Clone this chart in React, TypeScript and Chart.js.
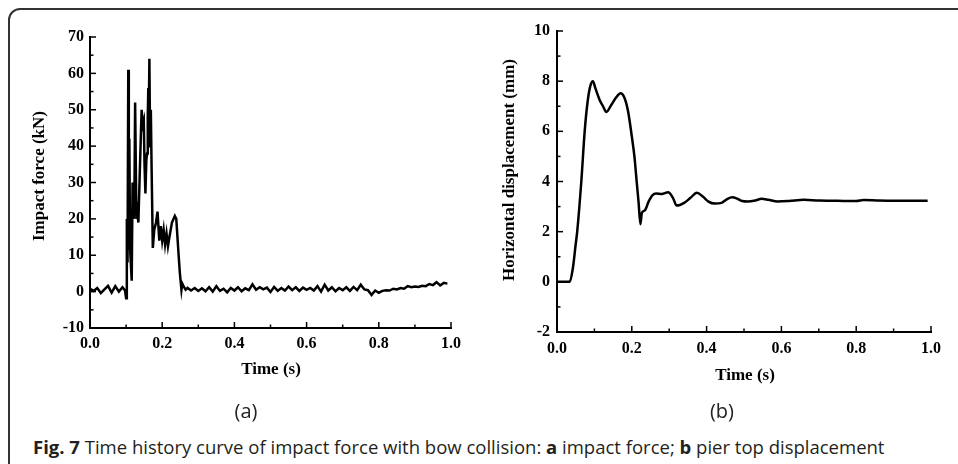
import React, { useEffect, useRef } from "react";
import { Chart, registerables } from "chart.js";

Chart.register(...registerables);

// ---------- Data ----------
// (a) impact force time history
const timeA = [
  0, 0.01, 0.02, 0.03, 0.04, 0.05, 0.06, 0.07, 0.08, 0.09, 0.097, 0.1, 0.102, 0.104, 0.106, 0.107,
  0.108, 0.109, 0.111, 0.1155, 0.118, 0.121, 0.123, 0.125, 0.1285, 0.131, 0.134, 0.138, 0.143,
  0.1465, 0.149, 0.151, 0.1535, 0.156, 0.158, 0.16, 0.1615, 0.1625, 0.1645, 0.1665, 0.1685, 0.1705,
  0.174, 0.178, 0.183, 0.187, 0.192, 0.196, 0.2, 0.204, 0.208, 0.212, 0.216, 0.22, 0.227, 0.235,
  0.239, 0.2455, 0.249, 0.2533, 0.2555, 0.259, 0.265, 0.27, 0.28, 0.29, 0.3, 0.31, 0.32, 0.33, 0.34,
  0.35, 0.36, 0.37, 0.38, 0.39, 0.4, 0.41, 0.42, 0.43, 0.44, 0.45, 0.46, 0.47, 0.48, 0.49, 0.5,
  0.51, 0.52, 0.53, 0.54, 0.55, 0.56, 0.57, 0.58, 0.59, 0.6, 0.61, 0.62, 0.63, 0.64, 0.65, 0.66,
  0.67, 0.68, 0.69, 0.7, 0.71, 0.72, 0.73, 0.74, 0.75, 0.76, 0.77, 0.78, 0.79, 0.8, 0.81, 0.82,
  0.83, 0.84, 0.85, 0.86, 0.87, 0.88, 0.89, 0.9, 0.91, 0.92, 0.93, 0.94, 0.95, 0.96, 0.97, 0.98, 0.99,
];
const forceA = [
  0.8, 0.2, 1.0, -0.4, 0.6, 1.6, -0.3, 1.5, 0.0, 1.2, 0.3, -1.8, 20, 8, 61, 54,
  38, 42, 12, 3, 30, 20, 25, 52, 20, 22, 19, 33, 50,
  46, 47, 35, 27, 36, 38, 48, 56, 45, 64, 40, 50, 35,
  12, 17, 19, 22, 14, 18, 14, 17, 13, 16, 12.5, 15, 19, 20.8,
  20, 10, 5, 0.5, 2.2, 1.5, 0.5, 1.0, 0.3, 1.0, 0.2, 0.9, 0.1, 1.2, 0.0,
  1.5, 0.2, 0.8, -0.2, 1.0, 0.3, 1.2, 0.1, 0.9, 0.4, 2.0, 0.5, 1.2, 0.6, 1.1, -0.1,
  1.3, 0.2, 1.0, 0.3, 1.4, 0.4, 1.2, 0.2, 1.1, 0.5, 1.0, 0.3, 1.5, 0.0, 1.9, 0.3,
  1.2, 0.1, 1.0, 0.4, 1.2, 0.2, 1.3, 0.4, 1.9, 0.6, 0.4, -0.9, 0.3, -0.3, 0.2, 0.4,
  0.3, 0.8, 0.6, 1.0, 0.8, 1.5, 1.2, 1.4, 1.3, 1.6, 1.5, 2.1, 1.8, 2.6, 1.7, 2.4, 2.2, 2.3,
];

// (b) pier top horizontal displacement
const timeB = [
  0, 0.034, 0.042, 0.05, 0.054, 0.065, 0.074, 0.082, 0.089, 0.096, 0.103, 0.114, 0.123, 0.132,
  0.145, 0.158, 0.17, 0.18, 0.19, 0.2, 0.207, 0.213, 0.218, 0.223, 0.227, 0.235, 0.245, 0.255,
  0.265, 0.28, 0.297, 0.31, 0.32, 0.34, 0.357, 0.374, 0.39, 0.405, 0.422, 0.44, 0.455, 0.468,
  0.48, 0.495, 0.51, 0.53, 0.547, 0.565, 0.59, 0.62, 0.66, 0.7, 0.75, 0.8, 0.82, 0.86, 0.9, 0.95, 0.991,
];
const dispB = [
  0, 0, 0.5, 1.5, 2.0, 4.0, 6.0, 7.2, 7.8, 8.0, 7.7, 7.25, 7.0, 6.77,
  7.05, 7.35, 7.52, 7.35, 6.8, 5.8, 5.0, 4.0, 3.2, 2.3, 2.75, 2.85, 3.2, 3.45,
  3.52, 3.5, 3.57, 3.35, 3.04, 3.15, 3.35, 3.55, 3.4, 3.2, 3.12, 3.15, 3.3, 3.37,
  3.33, 3.22, 3.2, 3.24, 3.31, 3.27, 3.2, 3.22, 3.27, 3.24, 3.23, 3.22, 3.26, 3.24, 3.23, 3.23, 3.23,
];

const xTicks = [0, 0.2, 0.4, 0.6, 0.8, 1.0];
const yTicksA = [-10, 0, 10, 20, 30, 40, 50, 60, 70];
const yTicksB = [-2, 0, 2, 4, 6, 8, 10];

const xTitle = "Time (s)";
const yTitleA = "Impact force (kN)";
const yTitleB = "Horizontal displacement (mm)";

// ---------- Plugins ----------
const SERIF = "'Liberation Serif', 'Times New Roman', serif";

const inwardTicks = {
  id: "inwardTicks",
  afterDraw(chart: any) {
    const { ctx, chartArea } = chart;
    const xs = chart.scales.x;
    const ys = chart.scales.y;
    const major = 6;
    const minor = 3.5;
    ctx.save();
    ctx.strokeStyle = "#000";
    ctx.lineWidth = 1.5;
    const seg = (x1: number, y1: number, x2: number, y2: number) => {
      ctx.beginPath();
      ctx.moveTo(x1, y1);
      ctx.lineTo(x2, y2);
      ctx.stroke();
    };
    const xv = xs.ticks.map((t: any) => t.value);
    xv.forEach((v: number, i: number) => {
      const px = xs.getPixelForValue(v);
      seg(px, chartArea.bottom, px, chartArea.bottom - major);
      if (i < xv.length - 1) {
        const pm = xs.getPixelForValue((v + xv[i + 1]) / 2);
        seg(pm, chartArea.bottom, pm, chartArea.bottom - minor);
      }
    });
    const yv = ys.ticks.map((t: any) => t.value);
    yv.forEach((v: number, i: number) => {
      const py = ys.getPixelForValue(v);
      seg(chartArea.left, py, chartArea.left + major, py);
      if (i < yv.length - 1) {
        const pm = ys.getPixelForValue((v + yv[i + 1]) / 2);
        seg(chartArea.left, pm, chartArea.left + minor, pm);
      }
    });
    ctx.restore();
  },
};

const axisTitles = {
  id: "axisTitles",
  afterDraw(chart: any, _args: any, opts: any) {
    const { ctx } = chart;
    ctx.save();
    ctx.fillStyle = "#000";
    ctx.font = `bold ${opts.size}px ${SERIF}`;
    ctx.textAlign = "center";
    ctx.textBaseline = "middle";
    ctx.fillText(opts.xText, opts.xcx, opts.xcy);
    ctx.translate(opts.ycx, opts.ycy);
    ctx.rotate(-Math.PI / 2);
    ctx.fillText(opts.yText, 0, 0);
    ctx.restore();
  },
};

type Cfg = {
  times: number[];
  values: number[];
  yTicks: number[];
  yMin: number;
  yMax: number;
  width: number;
  height: number;
  axisLeft: number;
  padRight: number;
  padTop: number;
  axisBottom: number;
  xLabelPad: number;
  yLabelPad: number;
  titles: any;
  smooth: boolean;
};

function LineChart(props: Cfg) {
  const ref = useRef<HTMLCanvasElement>(null);
  useEffect(() => {
    if (!ref.current) return;
    const p = props;
    const tickFont = { family: SERIF, size: 16, weight: "bold" as const };
    const chart = new Chart(ref.current, {
      type: "line",
      data: {
        datasets: [
          {
            data: p.times.map((t, i) => ({ x: t, y: p.values[i] })),
            borderColor: "#000",
            borderWidth: 2.5,
            pointRadius: 0,
            fill: false,
            tension: p.smooth ? 0.4 : 0,
            cubicInterpolationMode: p.smooth ? "monotone" : "default",
          },
        ],
      },
      options: {
        animation: false,
        responsive: false,
        events: [],
        layout: { padding: { left: 0, top: p.padTop, right: p.padRight, bottom: 0 } },
        plugins: {
          legend: { display: false },
          tooltip: { enabled: false },
          axisTitles: p.titles,
        } as any,
        scales: {
          x: {
            type: "linear",
            min: 0,
            max: 1,
            grid: { display: false, drawTicks: false },
            border: { display: true, color: "#000", width: 2 },
            afterBuildTicks: (s: any) => {
              s.ticks = xTicks.map((v) => ({ value: v }));
            },
            afterFit: (s: any) => {
              s.height = p.height - p.axisBottom;
            },
            ticks: {
              color: "#000",
              font: tickFont,
              padding: p.xLabelPad,
              maxRotation: 0,
              autoSkip: false,
              callback: (v: any) => Number(v).toFixed(1),
            },
          },
          y: {
            type: "linear",
            min: p.yMin,
            max: p.yMax,
            grid: { display: false, drawTicks: false },
            border: { display: true, color: "#000", width: 2 },
            afterBuildTicks: (s: any) => {
              s.ticks = p.yTicks.map((v) => ({ value: v }));
            },
            afterFit: (s: any) => {
              s.width = p.axisLeft;
            },
            ticks: {
              color: "#000",
              font: tickFont,
              padding: p.yLabelPad,
              autoSkip: false,
              callback: (v: any) => String(v),
            },
          },
        },
      },
      plugins: [inwardTicks, axisTitles],
    } as any);
    return () => chart.destroy();
  }, []);
  return <canvas ref={ref} width={props.width} height={props.height} style={{ display: "block" }} />;
}

const captionStyle: React.CSSProperties = {
  position: "absolute",
  left: 33,
  top: 435,
  fontFamily: "'Open Sans', 'Noto Sans', sans-serif",
  fontSize: 18.5,
  color: "#231f20",
  whiteSpace: "nowrap",
  lineHeight: "24px",
};

const subLabel: React.CSSProperties = {
  position: "absolute",
  top: 399,
  width: 60,
  textAlign: "center",
  fontFamily: "'Open Sans', 'Noto Sans', sans-serif",
  fontSize: 20,
  color: "#222",
  lineHeight: "24px",
};

export default function App() {
  return (
    <div
      style={{
        position: "fixed",
        left: 0,
        top: 0,
        width: 958,
        height: 464,
        overflow: "hidden",
        background: "#fff",
      }}
    >
      <div
        style={{
          position: "absolute",
          left: 8,
          top: 8,
          width: 1000,
          height: 520,
          border: "2px solid #333",
          borderRadius: 12,
        }}
      />
      <div style={{ position: "absolute", left: 0, top: 0 }}>
        <LineChart
          times={timeA}
          values={forceA}
          yTicks={yTicksA}
          yMin={-10}
          yMax={70}
          width={470}
          height={400}
          axisLeft={90}
          padRight={19}
          padTop={37}
          axisBottom={328}
          xLabelPad={6}
          yLabelPad={6}
          smooth={false}
          titles={{ size: 17, xText: xTitle, xcx: 271, xcy: 370, yText: yTitleA, ycx: 40, ycy: 176 }}
        />
      </div>
      <div style={{ position: "absolute", left: 470, top: 0 }}>
        <LineChart
          times={timeB}
          values={dispB}
          yTicks={yTicksB}
          yMin={-2}
          yMax={10}
          width={488}
          height={400}
          axisLeft={87}
          padRight={27}
          padTop={31}
          axisBottom={332}
          xLabelPad={7}
          yLabelPad={7}
          smooth={true}
          titles={{ size: 17, xText: xTitle, xcx: 275, xcy: 376, yText: yTitleB, ycx: 40, ycy: 170 }}
        />
      </div>
      <div style={{ ...subLabel, left: 216 }}>(a)</div>
      <div style={{ ...subLabel, left: 692 }}>(b)</div>
      <div style={captionStyle}>
        <b>Fig. 7</b> Time history curve of impact force with bow collision: <b>a</b> impact force;{" "}
        <b>b</b> pier top displacement
      </div>
    </div>
  );
}
